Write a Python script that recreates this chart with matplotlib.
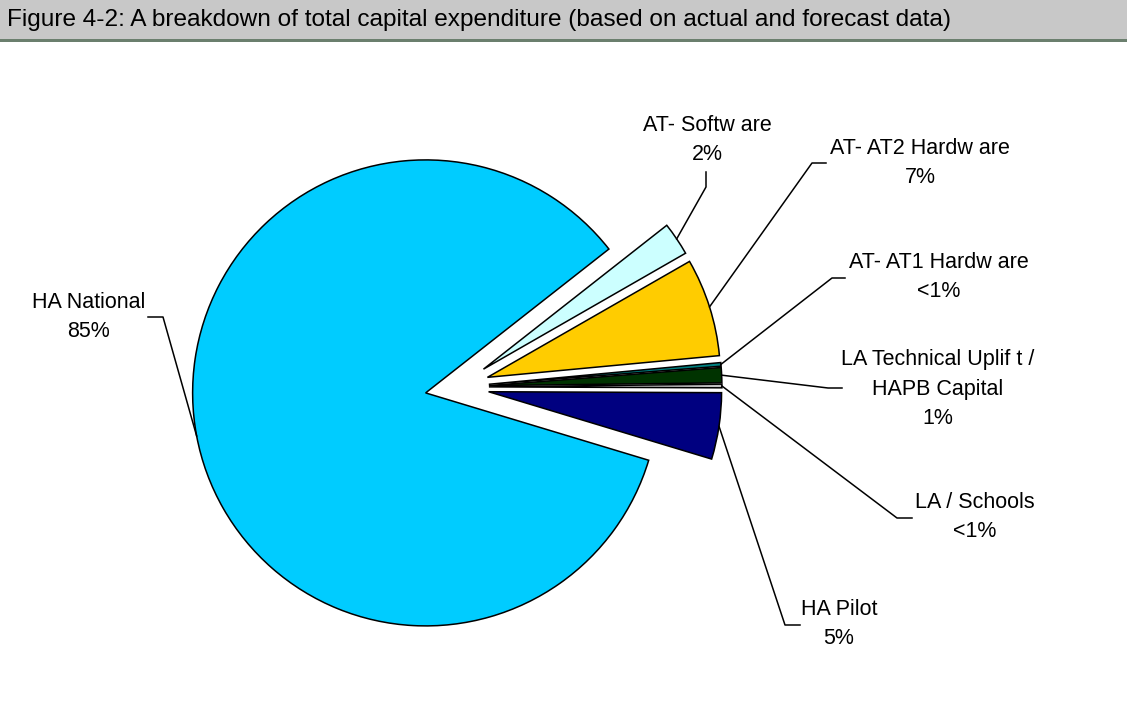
import matplotlib
matplotlib.use("Agg")
import matplotlib.pyplot as plt
from matplotlib.patches import Rectangle
import numpy as np

plt.rcParams['font.family'] = ['Liberation Sans', 'DejaVu Sans']

# slices in clockwise order, starting with HA National
labels = ["HA National", "AT- Softw are", "AT- AT2 Hardw are", "AT- AT1 Hardw are",
          "LA Technical Uplif t /\nHAPB Capital", "LA / Schools", "HA Pilot"]
values = [84.7, 2.3, 6.8, 0.25, 1.05, 0.25, 4.6]
colors = ["#00CCFF", "#CCFFFF", "#FFCC00", "#008080", "#003300", "#C0C0C0", "#000080"]

title = "Figure 4-2: A breakdown of total capital expenditure (based on actual and forecast data)"

W, H = 1127, 722
CX, CY, R = 457, 387, 233   # pie centre / radius in pixels


def px(x, y):
    return (x - CX) / R, (CY - y) / R


# label block centre, elbow point, end of the short stub (pixels)
label_pos = [(89, 317), (707, 140), (920, 163), (939, 277), (938, 389), (975, 517), (839, 624)]
elbows = [(163, 317), (706, 187), (812, 163), (832, 278), (828, 388), (897, 518), (785, 625)]
stubs = [(148, 317), (706, 172), (826, 163), (845, 278), (842, 388), (912, 518), (800, 625)]

fig = plt.figure(figsize=(W / 100, H / 100), dpi=100)
ax = fig.add_axes([0, 0, 1, 1])

wedges, _ = ax.pie(values, colors=colors, startangle=-16.8, counterclock=False,
                   explode=[0.137] * len(values), radius=1,
                   wedgeprops=dict(edgecolor="black", linewidth=1.1))

total = sum(values)
for w, lab, lp, el, st, v in zip(wedges, labels, label_pos, elbows, stubs, values):
    mid = np.deg2rad((w.theta1 + w.theta2) / 2)
    ax0 = w.center[0] + w.r * np.cos(mid)
    ay0 = w.center[1] + w.r * np.sin(mid)
    ex, ey = px(*el)
    sx, sy = px(*st)
    ax.plot([ax0, ex, sx], [ay0, ey, sy], color="black", lw=1.1)
    pct = v / total * 100
    pct_txt = "<1%" if pct < 1 else "%d%%" % round(pct)
    tx, ty = px(*lp)
    ax.text(tx, ty, lab + "\n" + pct_txt, ha="center", va="center",
            fontsize=15.5, linespacing=1.55, color="black")

ax.set_xlim(-CX / R, (W - CX) / R)
ax.set_ylim((CY - H) / R, CY / R)
ax.set_aspect("auto")
ax.axis("off")

# title bar
fig.patches.append(Rectangle((0, 1 - 39 / H), 1, 39 / H, transform=fig.transFigure,
                             facecolor="#C8C8C8", edgecolor="none", zorder=0))
fig.patches.append(Rectangle((0, 1 - 42 / H), 1, 3 / H, transform=fig.transFigure,
                             facecolor="#6B7F6E", edgecolor="none", zorder=0))
fig.text(7 / W, 1 - 20 / H, title, ha="left", va="center", fontsize=17.6, color="black")

fig.savefig("out.png", dpi=100)
